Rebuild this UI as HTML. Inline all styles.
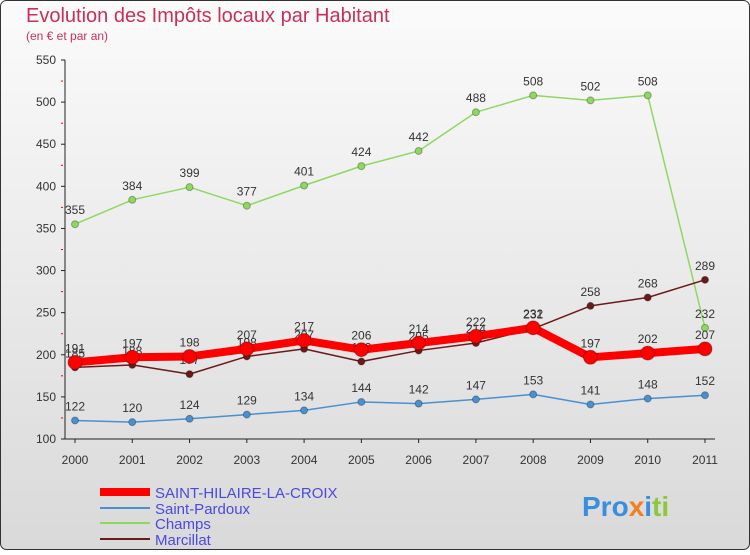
<!DOCTYPE html>
<html><head><meta charset="utf-8"><style>
body{margin:0;width:750px;height:550px;overflow:hidden;font-family:"Liberation Sans",sans-serif}
</style></head><body>
<svg width="750" height="550" xmlns="http://www.w3.org/2000/svg">
<defs><linearGradient id="bg" x1="0" y1="0" x2="0" y2="1"><stop offset="0" stop-color="#fbfbfb"/><stop offset="1" stop-color="#d9d9d9"/></linearGradient></defs>
<rect x="0.5" y="0.5" width="749" height="549" rx="6" fill="url(#bg)" stroke="#333"/>
<text x="26" y="22" font-size="20" fill="#c8305a">Evolution des Impôts locaux par Habitant</text>
<text x="26" y="40" font-size="12" fill="#c8305a">(en € et par an)</text>
<g id="axes"></g><g id="series"></g>
<g font-size="15">
<line x1="100" y1="492" x2="150" y2="492" stroke="#f00" stroke-width="8"/>
<text x="155" y="498" fill="#4a4ae0">SAINT-HILAIRE-LA-CROIX</text>
<line x1="100" y1="508" x2="150" y2="508" stroke="#4a90d0" stroke-width="2"/>
<text x="155" y="514" fill="#4a4ae0">Saint-Pardoux</text>
<line x1="100" y1="523" x2="150" y2="523" stroke="#8fd860" stroke-width="2"/>
<text x="155" y="529" fill="#4a4ae0">Champs</text>
<line x1="100" y1="539" x2="150" y2="539" stroke="#6a1a1a" stroke-width="2"/>
<text x="155" y="545" fill="#4a4ae0">Marcillat</text>
</g>
<text x="582" y="516" font-size="28" font-weight="bold"><tspan fill="#3a8ee0">Pro</tspan><tspan fill="#f08020">x</tspan><tspan fill="#3a8ee0">i</tspan><tspan fill="#8cc83c">ti</tspan></text>
</svg>
<script>
const years=[2000,2001,2002,2003,2004,2005,2006,2007,2008,2009,2010,2011];
const yTicks=[100,150,200,250,300,350,400,450,500,550];
const hilaire=[191,197,198,207,217,206,214,222,232,197,202,207];
const pardoux=[122,120,124,129,134,144,142,147,153,141,148,152];
const champs=[355,384,399,377,401,424,442,488,508,502,508,232];
const marcillat=[185,188,177,198,207,192,205,214,231,258,268,289];
const NS="http://www.w3.org/2000/svg";
const xs=i=>75+i*(705-75)/(years.length-1);
const ys=v=>439-(v-100)*(439-60)/450;
function mk(t,a,p){const e=document.createElementNS(NS,t);for(const k in a)e.setAttribute(k,a[k]);p.appendChild(e);return e;}
const ax=document.getElementById('axes');
const yl=mk('line',{x1:65,y1:60,x2:65,y2:439,stroke:'#222'},ax);


const xl=mk('line',{x1:65,y1:439,x2:715,y2:439,stroke:'#222'},ax);


yTicks.forEach(v=>{
 mk('line',{x1:61,y1:ys(v),x2:65,y2:ys(v),stroke:'#222'},ax);
 mk('line',{x1:61,y1:ys(v+25),x2:63,y2:ys(v+25),stroke:v+25<=550?'#e00':'none'},ax);
 const t=mk('text',{x:56,y:ys(v)+4,'font-size':12,'text-anchor':'end',fill:'#333'},ax);t.textContent=v;
 
 
});
years.forEach((y,i)=>{
 mk('line',{x1:xs(i),y1:439,x2:xs(i),y2:443,stroke:'#222'},ax);
 const t=mk('text',{x:xs(i),y:464,'font-size':12,'text-anchor':'middle',fill:'#333'},ax);t.textContent=y;
 
 
});
const sg=document.getElementById('series');
function series(vals,color,w,r,name){
 const g=mk('g',{},sg);
 
 
 mk('polyline',{points:vals.map((v,i)=>xs(i)+','+ys(v)).join(' '),fill:'none',stroke:color,'stroke-width':w,'stroke-linejoin':'round'},g);
 vals.forEach((v,i)=>{
  const c=mk('circle',{cx:xs(i),cy:ys(v),r:r,fill:color,stroke:'rgba(0,0,0,0.3)'},g);
  
  
  const t=mk('text',{x:xs(i),y:ys(v)-10,'font-size':12,'text-anchor':'middle',fill:'#333'},g);t.textContent=v;
  
  
 });
}
series(champs,'#8fd860',1.5,3.5,'series-champs');
series(pardoux,'#4a90d0',1.5,3.5,'series-saint-pardoux');
series(marcillat,'#6a1a1a',1.5,3.5,'series-marcillat');
series(hilaire,'#f00',8,7,'series-saint-hilaire');
</script>
</body></html>
